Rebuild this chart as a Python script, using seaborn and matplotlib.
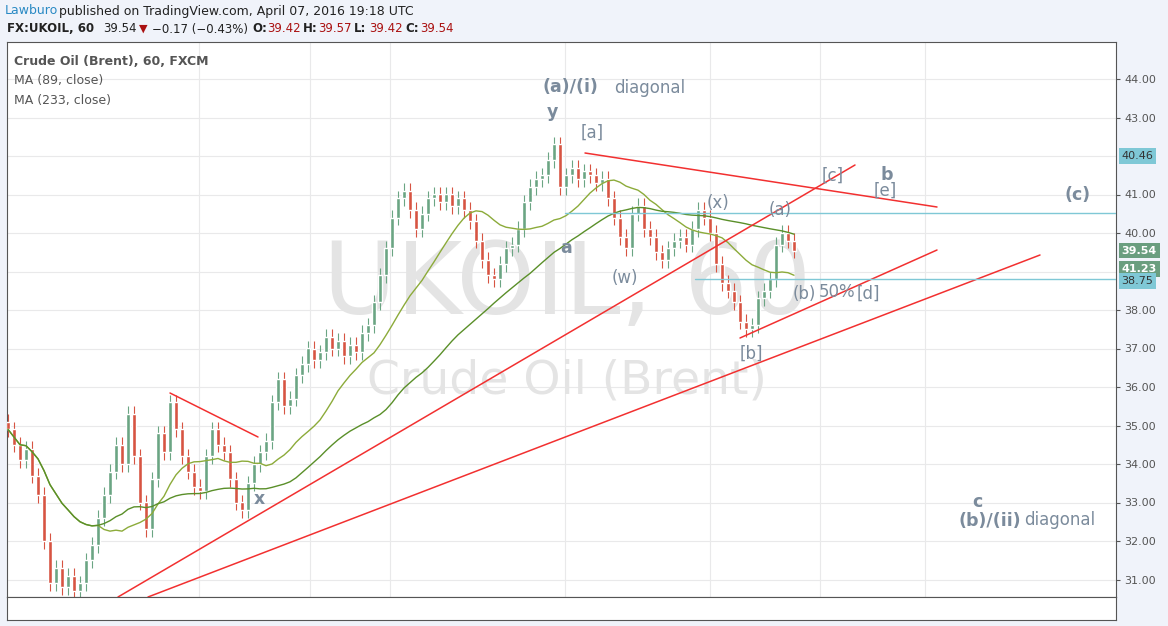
import matplotlib
matplotlib.use("Agg")
import matplotlib.pyplot as plt
import seaborn as sns
import pandas as pd
import numpy as np

# hourly closes (left to right)
closes = [34.9, 34.5, 34.1, 34.4, 33.7, 33.2, 32.0, 30.9, 31.3, 30.8,
          31.1, 30.7, 30.9, 31.5, 31.9, 32.6, 33.2, 33.8, 34.5, 34.0,
          35.3, 34.2, 33.0, 32.3, 33.6, 34.8, 34.3, 35.6, 34.9, 34.2,
          33.8, 33.4, 33.3, 34.2, 34.9, 34.5, 34.3, 33.6, 33.0, 32.8,
          33.5, 34.0, 34.3, 34.6, 35.6, 36.2, 35.5, 35.7, 36.3, 36.6,
          37.0, 36.7, 36.9, 37.3, 37.0, 37.2, 36.8, 37.1, 36.9, 37.4,
          37.6, 38.2, 38.9, 39.6, 40.4, 40.9, 41.1, 40.6, 40.1, 40.5,
          40.9, 41.0, 40.8, 41.0, 40.7, 40.9, 40.6, 40.3, 39.8, 39.3,
          38.9, 38.8, 39.2, 39.6, 39.7, 40.1, 40.8, 41.2, 41.4, 41.5,
          41.9, 42.3, 41.2, 41.5, 41.7, 41.4, 41.6, 41.5, 41.3, 41.4,
          40.9, 40.4, 39.9, 39.6, 40.5, 40.7, 40.1, 39.9, 39.5, 39.3,
          39.6, 39.8, 39.9, 39.7, 40.1, 40.6, 40.4, 40.0, 39.2, 38.7,
          38.5, 38.2, 37.7, 37.5, 37.6, 38.3, 38.5, 38.8, 39.7, 40.0,
          39.8, 39.54]
price_ticks = [31, 32, 33, 34, 35, 36, 37, 38, 40, 41, 43, 44]
price_boxes = [("40.46", 42.0, "#7fc8d6"), ("39.54", 39.54, "#6a9e7f"),
               ("41.23", 39.07, "#6a9e7f"), ("38.75", 38.75, "#7fc8d6")]

# drawn trendlines, pixel endpoints on the original chart
red_lines = [((118, 597), (855, 165)), ((148, 597), (1040, 255)),
             ((740, 338), (937, 250)), ((585, 153), (937, 207)),
             ((170, 393), (258, 437))]
cyan_lines = [((565, 213), (1116, 213)), ((695, 279), (1116, 279))]

labels = [("(a)/(i)", 570, 87, True), ("diagonal", 650, 88, False), ("y", 552, 112, True),
          ("[a]", 592, 133, False), ("[c]", 833, 176, False), ("b", 887, 175, True),
          ("[e]", 885, 191, False), ("(c)", 1078, 195, True), ("(x)", 718, 203, False),
          ("(a)", 780, 210, False), ("a", 566, 248, True), ("(w)", 625, 278, False),
          ("(b)", 804, 294, False), ("50%", 837, 292, False), ("[d]", 868, 294, False),
          ("[b]", 751, 354, False), ("x", 259, 499, True), ("c", 977, 502, True),
          ("(b)/(ii)", 990, 521, True), ("diagonal", 1060, 520, False)]


def xd(px):
    return (px - 8) / 6.0


def yd(py):
    return 44 - (py - 79) / 38.5


df = pd.DataFrame({"close": closes})
df["i"] = np.arange(len(df))
df["open"] = df["close"].shift(1).fillna(df["close"].iloc[0] + 0.2)
df["high"] = df[["open", "close"]].max(axis=1) + 0.2
df["low"] = df[["open", "close"]].min(axis=1) - 0.2
df["ma89"] = df["close"].rolling(16, min_periods=1).mean()
df["ma233"] = df["close"].rolling(42, min_periods=1).mean()

sns.set_style("white")
plt.rcParams["font.family"] = ["DejaVu Sans"]
fig = plt.figure(figsize=(11.68, 6.26), dpi=100, facecolor="#f0f3fa")
ax = fig.add_axes([7 / 1168, 1 - 597 / 626, 1109 / 1168, 555 / 626])
ax.set_xlim(xd(7), xd(1116))
ax.set_ylim(yd(597), yd(42))
ax.set_facecolor("white")

for p in price_ticks + [39, 42]:
    ax.axhline(p, color="#e9e9ea", lw=0.8, zorder=0)
for gx in [199, 310, 390, 565, 710, 820, 925]:
    ax.axvline(xd(gx), color="#e9e9ea", lw=0.8, zorder=0)

ax.text(0.505, 0.56, "UKOIL, 60", transform=ax.transAxes, fontsize=72, color="#e4e4e4",
        ha="center", va="center", zorder=0)
ax.text(0.505, 0.39, "Crude Oil (Brent)", transform=ax.transAxes, fontsize=34, color="#e4e4e4",
        ha="center", va="center", zorder=0)

up = df["close"] >= df["open"]
colors = np.where(up, "#6ba583", "#d75442")
ax.vlines(df["i"], df["low"], df["high"], colors=colors, lw=0.8, zorder=2)
ax.bar(df["i"], (df["close"] - df["open"]).abs().clip(lower=0.04),
       bottom=df[["open", "close"]].min(axis=1), width=0.6, color=colors, zorder=3)

sns.lineplot(data=df, x="i", y="ma89", ax=ax, color="#8cab3a", lw=1, zorder=4)
sns.lineplot(data=df, x="i", y="ma233", ax=ax, color="#5a8f29", lw=1, zorder=4)

for (x0, y0), (x1, y1) in red_lines:
    ax.plot([xd(x0), xd(x1)], [yd(y0), yd(y1)], color="#f23030", lw=1.1, zorder=5)
for (x0, y0), (x1, y1) in cyan_lines:
    ax.plot([xd(x0), xd(x1)], [yd(y0), yd(y1)], color="#7fc8d6", lw=1, zorder=5)

for txt, px, py, bold in labels:
    ax.text(xd(px), yd(py), txt, ha="center", va="center", color="#7b8b9c",
            fontsize=12.5 if bold else 12, fontweight="bold" if bold else "normal", zorder=6)

ax.set_xlabel("")
ax.set_ylabel("")
ax.set_xticks([])
ax.yaxis.tick_right()
ax.set_yticks(price_ticks)
ax.set_yticklabels([f"{p:.2f}" for p in price_ticks], fontsize=8, color="#555555")
ax.tick_params(axis="y", length=3, color="#555555", pad=3)
for s in ax.spines.values():
    s.set_color("#555555")
    s.set_linewidth(0.8)

for txt, p, c in price_boxes:
    ax.annotate(txt, xy=(1, p), xycoords=("axes fraction", "data"), xytext=(4, 0),
                textcoords="offset points", va="center", fontsize=8, color="white" if c == "#6a9e7f" else "#333333",
                fontweight="bold" if c == "#6a9e7f" else "normal",
                bbox=dict(boxstyle="square,pad=0.25", fc=c, ec="none"), annotation_clip=False)

# bottom strip (time axis area)
strip = fig.add_axes([7 / 1168, 1 - 620 / 626, 1109 / 1168, 23 / 626])
strip.set_xticks([])
strip.set_yticks([])
for s in strip.spines.values():
    s.set_color("#555555")
    s.set_linewidth(0.8)

ax.text(0.006, 0.965, "Crude Oil (Brent), 60, FXCM", transform=ax.transAxes, fontsize=9,
        fontweight="bold", color="#555555", va="center")
ax.text(0.006, 0.93, "MA (89, close)", transform=ax.transAxes, fontsize=9, color="#555555", va="center")
ax.text(0.006, 0.895, "MA (233, close)", transform=ax.transAxes, fontsize=9, color="#555555", va="center")

fig.text(5 / 1168, 1 - 11 / 626, "Lawburo", color="#2a8ac4", fontsize=9, va="center")
fig.text(59 / 1168, 1 - 11 / 626, "published on TradingView.com, April 07, 2016 19:18 UTC",
         color="#222222", fontsize=9, va="center")
hy = 1 - 29 / 626
fig.text(7 / 1168, hy, "FX:UKOIL, 60", color="#222222", fontsize=8.5, fontweight="bold", va="center")
fig.text(103 / 1168, hy, "39.54", color="#222222", fontsize=8.5, va="center")
fig.text(139 / 1168, hy, "\u25bc", color="#aa1111", fontsize=8, va="center")
fig.text(152 / 1168, hy, "\u22120.17 (\u22120.43%)", color="#222222", fontsize=8.5, va="center")
x = 252
for k, v in [("O:", "39.42"), ("H:", "39.57"), ("L:", "39.42"), ("C:", "39.54")]:
    fig.text(x / 1168, hy, k, color="#222222", fontsize=8.5, fontweight="bold", va="center")
    fig.text((x + 15) / 1168, hy, v, color="#aa1111", fontsize=8.5, va="center")
    x += 51

fig.savefig("out.png", dpi=100, facecolor=fig.get_facecolor())
